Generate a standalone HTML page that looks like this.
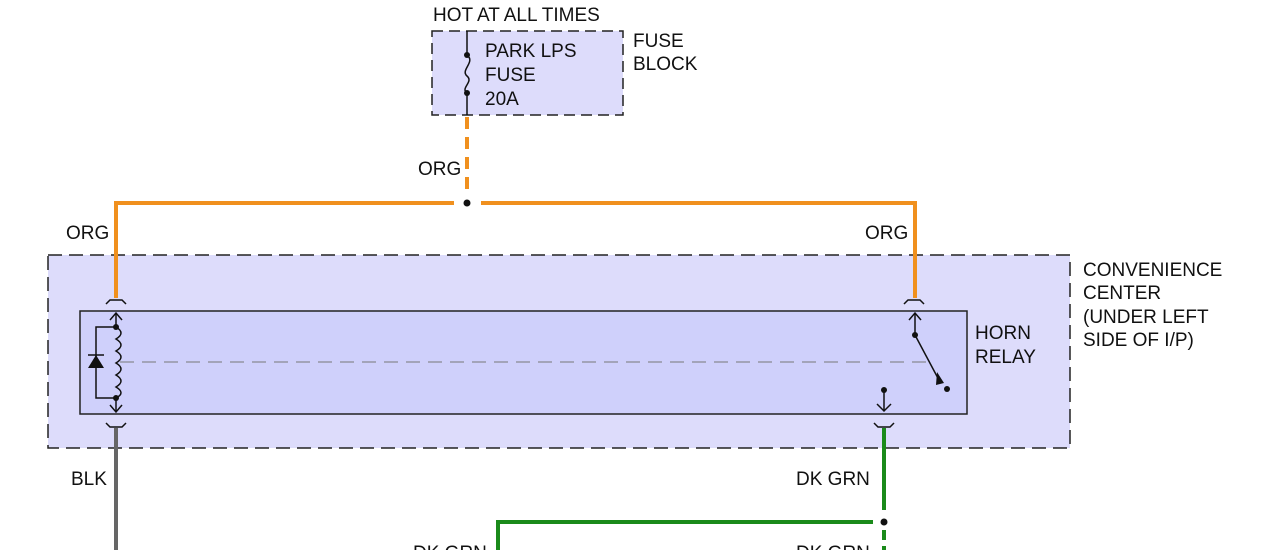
<!DOCTYPE html>
<html><head><style>body{margin:0;background:#fff}svg{display:block}text{font-family:"Liberation Sans",Arial,sans-serif;font-size:19px;fill:#111}</style></head>
<body>
<svg width="1266" height="550" viewBox="0 0 1266 550" xmlns="http://www.w3.org/2000/svg">
<rect x="48" y="255" width="1022" height="193" fill="#dddcfb" stroke="#222" stroke-width="1.5" stroke-dasharray="14,7"/>
<rect x="80" y="311" width="887" height="103" fill="#cfd0fb" stroke="#222" stroke-width="1.5"/>
<line x1="120" y1="362" x2="930" y2="362" stroke="#777" stroke-width="1" stroke-dasharray="14,8"/>
<rect x="432" y="31" width="191" height="84" fill="#dddcfb" stroke="#222" stroke-width="1.5" stroke-dasharray="11,6"/>
<line x1="467" y1="31" x2="467" y2="55" stroke="#111" stroke-width="1.5"/>
<path d="M467 55 C476 62,460 70,467 76 C474 82,460 88,467 93" fill="none" stroke="#111" stroke-width="1.5"/>
<line x1="467" y1="93" x2="467" y2="115" stroke="#111" stroke-width="1.5"/>
<circle cx="467" cy="55" r="3" fill="#111"/><circle cx="467" cy="93" r="3" fill="#111"/>
<text x="433" y="21">HOT AT ALL TIMES</text>
<text x="485" y="57">PARK LPS</text><text x="485" y="81">FUSE</text><text x="485" y="105">20A</text>
<text x="633" y="47">FUSE</text><text x="633" y="70">BLOCK</text>
<line x1="467" y1="117" x2="467" y2="192" stroke="#f0901e" stroke-width="4" stroke-dasharray="12,8"/>
<polyline points="116,298 116,203 454,203" fill="none" stroke="#f0901e" stroke-width="4"/>
<polyline points="481,203 915,203 915,298" fill="none" stroke="#f0901e" stroke-width="4"/>
<circle cx="467" cy="203" r="3.5" fill="#111"/>
<text x="418" y="175">ORG</text><text x="66" y="239">ORG</text><text x="865" y="239">ORG</text>
<g fill="none" stroke="#111" stroke-width="1.5">
<path d="M106 304 L110 300 L122 300 L126 304"/><path d="M904 304 L908 300 L920 300 L924 304"/>
<path d="M106 423 L110 427 L122 427 L126 423"/><path d="M874 423 L878 427 L890 427 L894 423"/>
<polyline points="110,320 116,313 122,320"/><line x1="116" y1="313" x2="116" y2="327"/>
<path d="M116 327 Q126 333 116 339 Q126 345 116 351 Q126 357 116 363 Q126 369 116 375 Q126 381 116 387 Q126 393 116 398"/>
<line x1="116" y1="398" x2="116" y2="412"/><polyline points="110,405 116,412 122,405"/>
<polyline points="116,327 96,327 96,398 116,398"/>
<polyline points="909,320 915,313 921,320"/><line x1="915" y1="313" x2="915" y2="335"/>
<line x1="915" y1="335" x2="940" y2="382"/>
<line x1="884" y1="390" x2="884" y2="411"/><polyline points="877,404 884,411 891,404"/>
</g>
<polygon points="88,368 104,368 96,355" fill="#111"/><line x1="88" y1="355" x2="104" y2="355" stroke="#111" stroke-width="1.5"/>
<polygon points="936,385 944,383 937,372" fill="#111"/>
<circle cx="116" cy="327" r="3" fill="#111"/><circle cx="116" cy="398" r="3" fill="#111"/>
<circle cx="915" cy="335" r="3" fill="#111"/><circle cx="947" cy="389" r="3" fill="#111"/><circle cx="884" cy="390" r="3" fill="#111"/>
<text x="975" y="339">HORN</text><text x="975" y="363">RELAY</text>
<text x="1083" y="276">CONVENIENCE</text><text x="1083" y="299">CENTER</text><text x="1083" y="323">(UNDER LEFT</text><text x="1083" y="346">SIDE OF I/P)</text>
<line x1="116" y1="428" x2="116" y2="550" stroke="#666" stroke-width="4"/>
<text x="71" y="485">BLK</text>
<line x1="884" y1="428" x2="884" y2="510" stroke="#1a8a1a" stroke-width="4"/>
<line x1="884" y1="530" x2="884" y2="550" stroke="#1a8a1a" stroke-width="4" stroke-dasharray="10,6"/>
<polyline points="873,522 498,522 498,550" fill="none" stroke="#1a8a1a" stroke-width="4"/>
<circle cx="884" cy="522" r="3.5" fill="#111"/>
<text x="796" y="485">DK GRN</text>
<text x="413" y="559">DK GRN</text><text x="796" y="559">DK GRN</text>
</svg>
</body></html>
